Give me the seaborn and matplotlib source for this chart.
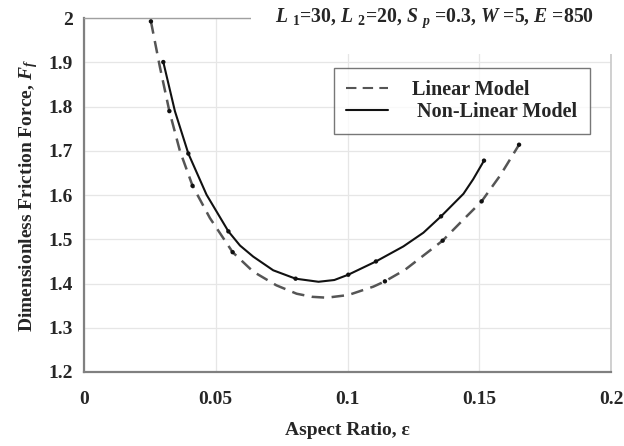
import matplotlib
matplotlib.use('Agg')
import matplotlib.pyplot as plt
from matplotlib.lines import Line2D
import seaborn as sns

# curves
lin_x = [0.0254, 0.0288, 0.0324, 0.0364, 0.0412, 0.0478, 0.0564, 0.0642, 0.073, 0.0807,
         0.0865, 0.0921, 0.1003, 0.1098, 0.1142, 0.1218, 0.1361, 0.1427, 0.1509, 0.158, 0.1651]
lin_y = [1.993, 1.890, 1.790, 1.700, 1.621, 1.548, 1.471, 1.427, 1.396, 1.377,
         1.370, 1.368, 1.374, 1.393, 1.405, 1.431, 1.497, 1.537, 1.586, 1.645, 1.714]
nl_x = [0.0301, 0.0345, 0.0396, 0.0465, 0.0548, 0.0592, 0.0642, 0.0718, 0.0803, 0.089,
        0.095, 0.1003, 0.1108, 0.1212, 0.1288, 0.1355, 0.144, 0.1477, 0.1518]
nl_y = [1.901, 1.790, 1.694, 1.601, 1.518, 1.486, 1.461, 1.430, 1.411, 1.404,
        1.408, 1.420, 1.450, 1.484, 1.515, 1.552, 1.603, 1.636, 1.678]

# data points (markers)
lin_mx = [0.0254, 0.0324, 0.0412, 0.0564, 0.1142, 0.1361, 0.1509, 0.1651]
lin_my = [1.993, 1.790, 1.621, 1.471, 1.405, 1.497, 1.586, 1.714]
nl_mx = [0.0301, 0.0396, 0.0548, 0.0803, 0.1003, 0.1108, 0.1355, 0.1518]
nl_my = [1.901, 1.694, 1.518, 1.411, 1.420, 1.450, 1.552, 1.678]

x_ticks = [0, 0.05, 0.1, 0.15, 0.2]
x_labels = ['0', '0.05', '0.1', '0.15', '0.2']
y_ticks = [1.2, 1.3, 1.4, 1.5, 1.6, 1.7, 1.8, 1.9, 2.0]
y_labels = ['1.2', '1.3', '1.4', '1.5', '1.6', '1.7', '1.8', '1.9', '2']
legend_labels = ['Linear Model', ' Non-Linear Model']

sns.set_style('white')
plt.rcParams['font.family'] = ['Liberation Serif', 'DejaVu Serif']
plt.rcParams['font.weight'] = 'bold'
plt.rcParams['mathtext.fontset'] = 'custom'
plt.rcParams['mathtext.rm'] = 'Liberation Serif:bold'
plt.rcParams['mathtext.it'] = 'Liberation Serif:italic:bold'
plt.rcParams['mathtext.bf'] = 'Liberation Serif:bold'

fig = plt.figure(figsize=(6.24, 4.46), dpi=100)
ax = fig.add_axes([0.1346, 0.166, 0.8446, 0.793])

dash_col = '#555555'
sns.lineplot(x=lin_x, y=lin_y, ax=ax, color=dash_col, lw=1.8, sort=False)
ax.lines[-1].set_dashes([5, 3])
sns.lineplot(x=nl_x, y=nl_y, ax=ax, color='#111111', lw=1.5, sort=False)
sns.scatterplot(x=lin_mx, y=lin_my, ax=ax, color='#111111', s=10, edgecolor='none', zorder=4)
sns.scatterplot(x=nl_mx, y=nl_my, ax=ax, color='#111111', s=10, edgecolor='none', zorder=4)

ax.set_xlim(0, 0.2)
ax.set_ylim(1.2, 2.0)
ax.set_xticks(x_ticks)
ax.set_xticklabels(x_labels)
ax.set_yticks(y_ticks)
ax.set_yticklabels(y_labels)
ax.tick_params(axis='x', direction='inout', length=6, width=1, color='#808080',
               labelsize=14, pad=11)
ax.tick_params(axis='y', direction='inout', length=6, width=1, color='#808080',
               labelsize=14, pad=5)
for lab in ax.get_xticklabels() + ax.get_yticklabels():
    lab.set_fontweight('bold')

ax.grid(True, color='#e6e6e6', lw=0.9)
for side in ['left', 'bottom']:
    ax.spines[side].set_color('#808080')
    ax.spines[side].set_linewidth(1.6)
ax.spines['right'].set_color('#c8c8c8')
ax.spines['right'].set_linewidth(1.2)
ax.spines['top'].set_color('#a0a0a0')
ax.spines['top'].set_linewidth(1.0)

ax.set_xlabel(r'Aspect Ratio, ε', fontsize=14, fontweight='bold', labelpad=10)
ax.set_ylabel(r'Dimensionless Friction Force, $F_f$', fontsize=14, fontweight='bold',
              labelpad=6)

ax.text(0.362, 1.0, r'$L$ $_{1}$=30, $L$ $_{2}$=20, $S$ $_{p}$ =0.3, $W$ =5, $E$ =850',
        transform=ax.transAxes, ha='left', va='center', fontsize=14.2, fontweight='bold',
        bbox=dict(facecolor='white', edgecolor='none', boxstyle='square,pad=1.2'), zorder=5)

handles = [Line2D([], [], color=dash_col, lw=1.5, dashes=[5, 3]),
           Line2D([], [], color='#111111', lw=1.5)]
leg = ax.legend(handles, legend_labels, loc='upper left', bbox_to_anchor=(0.474, 0.859),
                borderaxespad=0,
                prop={'family': 'Liberation Serif', 'weight': 'bold', 'size': 14.5},
                frameon=True, fancybox=False, shadow=False, handlelength=2.1,
                handletextpad=1.2, borderpad=0.6, labelspacing=0.1)
leg.get_frame().set_edgecolor('#555555')
leg.get_frame().set_linewidth(1.0)

fig.savefig('out.png', dpi=100)
